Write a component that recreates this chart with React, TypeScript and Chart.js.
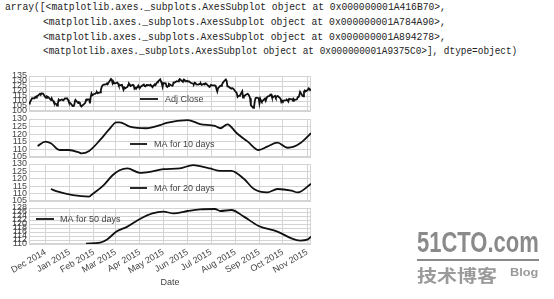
import React, { useEffect, useLayoutEffect, useRef } from "react";
import { Chart, registerables } from "chart.js";

Chart.register(...registerables);

const FONT = "'Liberation Sans', Arial, Helvetica, sans-serif";
const TICK_COLOR = "#444444";
const GRID_COLOR = "#d4d4d4";
const LINE_COLOR = "#111111";

// ---------------- data ----------------
const closeDates = [
  "2014-11-10","2014-11-11","2014-11-12","2014-11-13","2014-11-14","2014-11-17","2014-11-18","2014-11-19","2014-11-20","2014-11-21","2014-11-24","2014-11-25","2014-11-26","2014-11-28",
  "2014-12-01","2014-12-02","2014-12-03","2014-12-04","2014-12-05","2014-12-08","2014-12-09","2014-12-10","2014-12-11","2014-12-12","2014-12-15","2014-12-16","2014-12-17","2014-12-18","2014-12-19","2014-12-22","2014-12-23","2014-12-24","2014-12-26","2014-12-29","2014-12-30","2014-12-31",
  "2015-01-02","2015-01-05","2015-01-06","2015-01-07","2015-01-08","2015-01-09","2015-01-12","2015-01-13","2015-01-14","2015-01-15","2015-01-16","2015-01-20","2015-01-21","2015-01-22","2015-01-23","2015-01-26","2015-01-27","2015-01-28","2015-01-29","2015-01-30",
  "2015-02-02","2015-02-03","2015-02-04","2015-02-05","2015-02-06","2015-02-09","2015-02-10","2015-02-11","2015-02-12","2015-02-13","2015-02-17","2015-02-18","2015-02-19","2015-02-20","2015-02-23","2015-02-24","2015-02-25","2015-02-26","2015-02-27",
  "2015-03-02","2015-03-03","2015-03-04","2015-03-05","2015-03-06","2015-03-09","2015-03-10","2015-03-11","2015-03-12","2015-03-13","2015-03-16","2015-03-17","2015-03-18","2015-03-19","2015-03-20","2015-03-23","2015-03-24","2015-03-25","2015-03-26","2015-03-27","2015-03-30","2015-03-31",
  "2015-04-01","2015-04-02","2015-04-06","2015-04-07","2015-04-08","2015-04-09","2015-04-10","2015-04-13","2015-04-14","2015-04-15","2015-04-16","2015-04-17","2015-04-20","2015-04-21","2015-04-22","2015-04-23","2015-04-24","2015-04-27","2015-04-28","2015-04-29","2015-04-30",
  "2015-05-01","2015-05-04","2015-05-05","2015-05-06","2015-05-07","2015-05-08","2015-05-11","2015-05-12","2015-05-13","2015-05-14","2015-05-15","2015-05-18","2015-05-19","2015-05-20","2015-05-21","2015-05-22","2015-05-26","2015-05-27","2015-05-28","2015-05-29",
  "2015-06-01","2015-06-02","2015-06-03","2015-06-04","2015-06-05","2015-06-08","2015-06-09","2015-06-10","2015-06-11","2015-06-12","2015-06-15","2015-06-16","2015-06-17","2015-06-18","2015-06-19","2015-06-22","2015-06-23","2015-06-24","2015-06-25","2015-06-26","2015-06-29","2015-06-30",
  "2015-07-01","2015-07-02","2015-07-06","2015-07-07","2015-07-08","2015-07-09","2015-07-10","2015-07-13","2015-07-14","2015-07-15","2015-07-16","2015-07-17","2015-07-20","2015-07-21","2015-07-22","2015-07-23","2015-07-24","2015-07-27","2015-07-28","2015-07-29","2015-07-30","2015-07-31",
  "2015-08-03","2015-08-04","2015-08-05","2015-08-06","2015-08-07","2015-08-10","2015-08-11","2015-08-12","2015-08-13","2015-08-14","2015-08-17","2015-08-18","2015-08-19","2015-08-20","2015-08-21","2015-08-24","2015-08-25","2015-08-26","2015-08-27","2015-08-28","2015-08-31",
  "2015-09-01","2015-09-02","2015-09-03","2015-09-04","2015-09-08","2015-09-09","2015-09-10","2015-09-11","2015-09-14","2015-09-15","2015-09-16","2015-09-17","2015-09-18","2015-09-21","2015-09-22","2015-09-23","2015-09-24","2015-09-25","2015-09-28","2015-09-29","2015-09-30",
  "2015-10-01","2015-10-02","2015-10-05","2015-10-06","2015-10-07","2015-10-08","2015-10-09","2015-10-12","2015-10-13","2015-10-14","2015-10-15","2015-10-16","2015-10-19","2015-10-20","2015-10-21","2015-10-22","2015-10-23","2015-10-26","2015-10-27","2015-10-28","2015-10-29","2015-10-30",
  "2015-11-02","2015-11-03","2015-11-04","2015-11-05","2015-11-06",
];
const adjClose = [
  107.4,108.3,109.9,111.4,112.8,112.6,114.1,113.3,114.9,115.1,117.2,116.2,117.6,117.5,
  113.7,113.2,114.5,114.1,113.6,111.0,112.7,110.6,110.2,108.3,106.8,105.4,108.0,111.3,110.4,111.5,111.1,110.6,112.6,112.5,111.1,109.0,
  107.9,104.9,104.9,106.4,110.5,110.6,107.9,108.8,108.4,105.4,104.6,107.3,108.2,111.0,111.6,111.7,107.7,113.9,117.5,115.8,
  117.2,117.3,118.2,118.9,117.9,118.7,121.0,123.9,125.5,126.1,126.8,127.7,127.5,128.5,132.0,131.2,127.8,129.4,127.5,
  128.1,128.4,127.5,125.4,125.6,126.1,123.5,121.2,123.5,122.6,124.0,126.0,127.5,126.5,124.9,126.2,125.7,122.4,123.2,122.3,125.4,123.4,
  123.3,124.3,126.4,125.0,124.6,125.6,126.1,125.9,125.3,125.8,125.2,123.8,126.6,125.9,127.6,128.7,129.3,131.6,129.6,127.6,124.2,
  128.0,127.7,124.8,124.0,124.8,127.1,125.8,125.4,125.5,128.5,128.3,129.7,129.6,129.6,130.9,132.0,129.1,131.5,131.3,129.8,
  130.0,129.5,129.6,128.9,128.2,127.3,126.9,128.4,128.1,126.7,126.4,127.1,126.8,127.4,126.1,127.1,126.5,127.6,127.0,126.3,124.0,124.9,
  126.1,125.9,125.5,125.2,122.1,119.6,122.8,125.2,125.1,126.3,128.0,129.1,131.6,130.3,124.7,124.7,124.0,122.3,122.9,122.5,121.9,120.8,
  117.9,114.1,114.9,115.1,115.5,119.7,113.5,115.2,115.2,116.0,117.2,116.5,115.0,112.7,105.8,103.1,103.7,109.7,112.9,113.3,112.8,
  107.7,112.3,110.4,109.3,112.3,110.2,112.6,114.2,115.3,116.3,116.4,113.9,113.5,115.2,113.4,114.3,115.0,114.7,112.4,109.1,110.3,
  109.6,110.4,110.8,111.3,110.8,109.5,112.1,111.6,111.8,110.2,111.9,111.0,111.7,113.8,113.8,115.5,119.1,115.3,114.6,119.3,120.5,119.5,
  121.2,122.6,122.0,120.9,121.1,
];

const ma10Dates = ["2014-11-21","2014-12-01","2014-12-08","2014-12-19","2014-12-31","2015-01-13","2015-01-16","2015-01-26","2015-02-09","2015-02-20","2015-03-02","2015-03-06","2015-03-19","2015-04-09","2015-04-27","2015-05-05","2015-06-01","2015-06-17","2015-07-06","2015-07-13","2015-07-22","2015-08-03","2015-08-17","2015-08-31","2015-09-11","2015-09-24","2015-10-07","2015-10-15","2015-10-23","2015-11-06"];
const ma10 = [112.2,115.1,114.0,109.6,109.6,108.0,107.4,109.0,116.2,122.8,127.8,127.8,125.0,123.9,126.0,127.5,129.3,126.7,125.4,123.9,126.5,120.6,115.1,109.6,111.8,114.4,111.1,111.8,114.0,120.6];

const ma20Dates = ["2014-12-08","2014-12-16","2015-01-05","2015-01-26","2015-01-30","2015-02-13","2015-02-25","2015-03-06","2015-03-16","2015-04-01","2015-04-14","2015-05-01","2015-05-22","2015-06-08","2015-06-17","2015-06-30","2015-07-13","2015-07-27","2015-08-12","2015-08-25","2015-09-11","2015-09-24","2015-10-12","2015-10-20","2015-11-06"];
const ma20 = [113.1,111.5,109.0,108.0,109.6,115.4,122.4,125.8,127.0,124.0,124.7,126.5,127.0,129.3,128.6,127.0,125.3,125.3,120.0,113.1,110.8,113.1,112.0,110.8,116.6];

const ma50Dates = ["2015-01-22","2015-02-09","2015-02-18","2015-03-02","2015-03-16","2015-04-01","2015-04-17","2015-05-01","2015-05-14","2015-06-01","2015-06-17","2015-07-06","2015-07-13","2015-07-27","2015-08-12","2015-08-31","2015-09-24","2015-10-12","2015-10-23","2015-11-02","2015-11-06"];
const ma50 = [110.2,110.7,112.3,116.2,118.7,122.5,125.3,126.2,125.3,126.5,127.3,127.5,126.5,127.0,123.7,119.0,116.2,112.8,111.7,112.3,113.7];

const X_START = "2014-11-10";
const X_END = "2015-11-06";
const monthTickDates = ["2014-12-01","2015-01-01","2015-02-01","2015-03-01","2015-04-01","2015-05-01","2015-06-01","2015-07-01","2015-08-01","2015-09-01","2015-10-01","2015-11-01"];
const monthTickLabels = ["Dec 2014","Jan 2015","Feb 2015","Mar 2015","Apr 2015","May 2015","Jun 2015","Jul 2015","Aug 2015","Sep 2015","Oct 2015","Nov 2015"];

const panelLabels = ["Adj Close", "MA for 10 days", "MA for 20 days", "MA for 50 days"];
const yMin = [100, 105, 105, 110];
const yMax = [135, 130, 130, 128];
const yStep = [5, 5, 5, 2];
const xTitle = "Date";

const consoleLines = [
  "array([<matplotlib.axes._subplots.AxesSubplot object at 0x000000001A416B70>,",
  "<matplotlib.axes._subplots.AxesSubplot object at 0x000000001A784A90>,",
  "<matplotlib.axes._subplots.AxesSubplot object at 0x000000001A894278>,",
  "<matplotlib.axes._subplots.AxesSubplot object at 0x000000001A9375C0>], dtype=object)",
];

// ---------------- layout (page px) ----------------
const PAGE_W = 554;
const PAGE_H = 299;
const PLOT_RIGHT = 311;
const Y_AXIS_W = 29;
const PAD = 8;
const panelBoxes = [
  { top: 76, bottom: 111 },
  { top: 119, bottom: 157 },
  { top: 164, bottom: 201 },
  { top: 208, bottom: 244 },
];
const legendPos = [
  { x0: 140, x1: 158, y: 99, tx: 165 },
  { x0: 130, x1: 147, y: 144, tx: 154 },
  { x0: 130, x1: 147, y: 188, tx: 154 },
  { x0: 36, x1: 54, y: 219, tx: 60 },
];
const consoleLeft = [5, 43, 43, 43];
const consoleRight = [446, 446, 446, 517];
const consoleTop = [2, 17, 31.7, 46.3];

const DAY0 = Date.UTC(2014, 11, 1);
function dayOf(s: string): number {
  const [y, m, d] = s.split("-").map(Number);
  return (Date.UTC(y, m - 1, d) - DAY0) / 86400000;
}

const framePlugin = {
  id: "frame",
  beforeDatasetsDraw(chart: any) {
    const { ctx, chartArea: a } = chart;
    ctx.save();
    ctx.strokeStyle = GRID_COLOR;
    ctx.lineWidth = 1;
    const l = Math.round(a.left) + 0.5;
    const t = Math.round(a.top) + 0.5;
    const r = Math.round(a.right) - 0.5;
    const b = Math.round(a.bottom) - 0.5;
    ctx.strokeRect(l, t, r - l, b - t);
    ctx.restore();
  },
};

const legendPlugin = {
  id: "panelLegend",
  afterDatasetsDraw(chart: any, _args: any, o: any) {
    if (!o || !o.text) return;
    const ctx = chart.ctx;
    const y = o.y - o.offsetY;
    ctx.save();
    ctx.strokeStyle = LINE_COLOR;
    ctx.lineWidth = 1.8;
    ctx.beginPath();
    ctx.moveTo(o.x0, y);
    ctx.lineTo(o.x1, y);
    ctx.stroke();
    ctx.fillStyle = TICK_COLOR;
    ctx.font = `9px ${FONT}`;
    ctx.textBaseline = "middle";
    ctx.textAlign = "left";
    ctx.fillText(o.text, o.tx, y + 0.5);
    ctx.restore();
  },
};

function Panel({ idx, dates, values, smooth }: { idx: number; dates: string[]; values: number[]; smooth: boolean }) {
  const ref = useRef<HTMLCanvasElement | null>(null);
  const box = panelBoxes[idx];
  const isLast = idx === panelBoxes.length - 1;
  const canvasTop = box.top - PAD;
  const canvasH = isLast ? PAGE_H - canvasTop : box.bottom - box.top + 2 * PAD;

  useEffect(() => {
    const canvas = ref.current;
    if (!canvas) return;
    const lg = legendPos[idx];
    const chart = new Chart(canvas, {
      type: "line",
      data: {
        datasets: [
          {
            label: panelLabels[idx],
            data: dates.map((d, i) => ({ x: dayOf(d), y: values[i] })),
            borderColor: LINE_COLOR,
            borderWidth: 1.8,
            pointRadius: 0,
            fill: false,
            tension: smooth ? 0.35 : 0,
            cubicInterpolationMode: smooth ? "monotone" : "default",
          } as any,
        ],
      },
      options: {
        responsive: false,
        animation: false,
        devicePixelRatio: 1,
        layout: { padding: { top: PAD, bottom: isLast ? 0 : PAD, left: 0, right: PAGE_W - PLOT_RIGHT } },
        plugins: {
          legend: { display: false },
          tooltip: { enabled: false },
          panelLegend: { ...lg, text: panelLabels[idx], offsetY: canvasTop },
        } as any,
        scales: {
          x: {
            type: "linear",
            bounds: "data",
            min: dayOf(X_START),
            max: dayOf(X_END),
            afterBuildTicks: (s: any) => {
              s.ticks = monthTickDates.map((d) => ({ value: dayOf(d) }));
            },
            afterFit: (s: any) => {
              s.height = isLast ? PAGE_H - box.bottom : 0;
            },
            grid: { color: GRID_COLOR, lineWidth: 1, drawTicks: false },
            border: { display: false },
            ticks: {
              display: isLast,
              autoSkip: false,
              minRotation: 30,
              maxRotation: 30,
              padding: 3,
              color: TICK_COLOR,
              font: { size: 9, family: FONT },
              callback: (_v: any, i: number) => monthTickLabels[i],
            },
            title: {
              display: isLast,
              text: xTitle,
              color: TICK_COLOR,
              font: { size: 9, family: FONT },
              padding: { top: 0, bottom: 11 },
            },
          },
          y: {
            min: yMin[idx],
            max: yMax[idx],
            afterFit: (s: any) => {
              s.width = Y_AXIS_W;
            },
            grid: { color: GRID_COLOR, lineWidth: 1, drawTicks: false },
            border: { display: false },
            ticks: {
              stepSize: yStep[idx],
              autoSkip: false,
              padding: 2,
              color: TICK_COLOR,
              font: { size: 9, family: FONT },
            },
          },
        },
      } as any,
      plugins: [framePlugin, legendPlugin],
    });
    return () => chart.destroy();
  }, []);

  return (
    <canvas
      ref={ref}
      width={PAGE_W}
      height={canvasH}
      style={{ position: "absolute", left: 0, top: canvasTop, width: PAGE_W, height: canvasH }}
    />
  );
}

function FitText({ text, left, top, width, style }: { text: string; left: number; top: number; width: number; style: React.CSSProperties }) {
  const ref = useRef<HTMLDivElement | null>(null);
  useLayoutEffect(() => {
    const fit = () => {
      const el = ref.current;
      if (!el) return;
      el.style.transform = "none";
      const w = el.offsetWidth;
      if (w > 0) el.style.transform = `scaleX(${width / w})`;
    };
    fit();
    const f = (document as any).fonts;
    if (f && f.ready) f.ready.then(fit);
  }, [text, width]);
  return (
    <div
      ref={ref}
      style={{ position: "absolute", left, top, whiteSpace: "pre", display: "inline-block", transformOrigin: "0 0", ...style }}
    >
      {text}
    </div>
  );
}

export default function App() {
  useEffect(() => {
    document.body.style.margin = "0";
  }, []);
  const series: [string[], number[], boolean][] = [
    [closeDates, adjClose, false],
    [ma10Dates, ma10, true],
    [ma20Dates, ma20, true],
    [ma50Dates, ma50, true],
  ];
  return (
    <div style={{ position: "fixed", left: 0, top: 0, width: PAGE_W, height: PAGE_H, background: "#ffffff", overflow: "hidden" }}>
      {consoleLines.map((t, i) => (
        <FitText
          key={i}
          text={t}
          left={consoleLeft[i]}
          top={consoleTop[i]}
          width={consoleRight[i] - consoleLeft[i]}
          style={{ fontFamily: "'Liberation Mono', 'DejaVu Sans Mono', monospace", fontSize: 10.5, lineHeight: "10.5px", color: "#222" }}
        />
      ))}
      {series.map(([d, v, s], i) => (
        <Panel key={i} idx={i} dates={d} values={v} smooth={s} />
      ))}
      <FitText
        text="51CTO.com"
        left={417}
        top={228}
        width={122}
        style={{ fontFamily: FONT, fontWeight: "bold", fontSize: 29, lineHeight: "29px", color: "#8a8a8a" }}
      />
      <div style={{ position: "absolute", left: 417, top: 259, width: 122, height: 2, background: "#8a8a8a" }} />
      <FitText
        text="技术博客"
        left={417}
        top={266}
        width={80}
        style={{ fontFamily: "'Noto Sans CJK SC', sans-serif", fontWeight: "bold", fontSize: 17, lineHeight: "17px", color: "#9a9a9a" }}
      />
      <FitText
        text="Blog"
        left={510}
        top={268}
        width={28}
        style={{ fontFamily: FONT, fontWeight: "bold", fontSize: 10, lineHeight: "10px", color: "#9a9a9a" }}
      />
    </div>
  );
}
